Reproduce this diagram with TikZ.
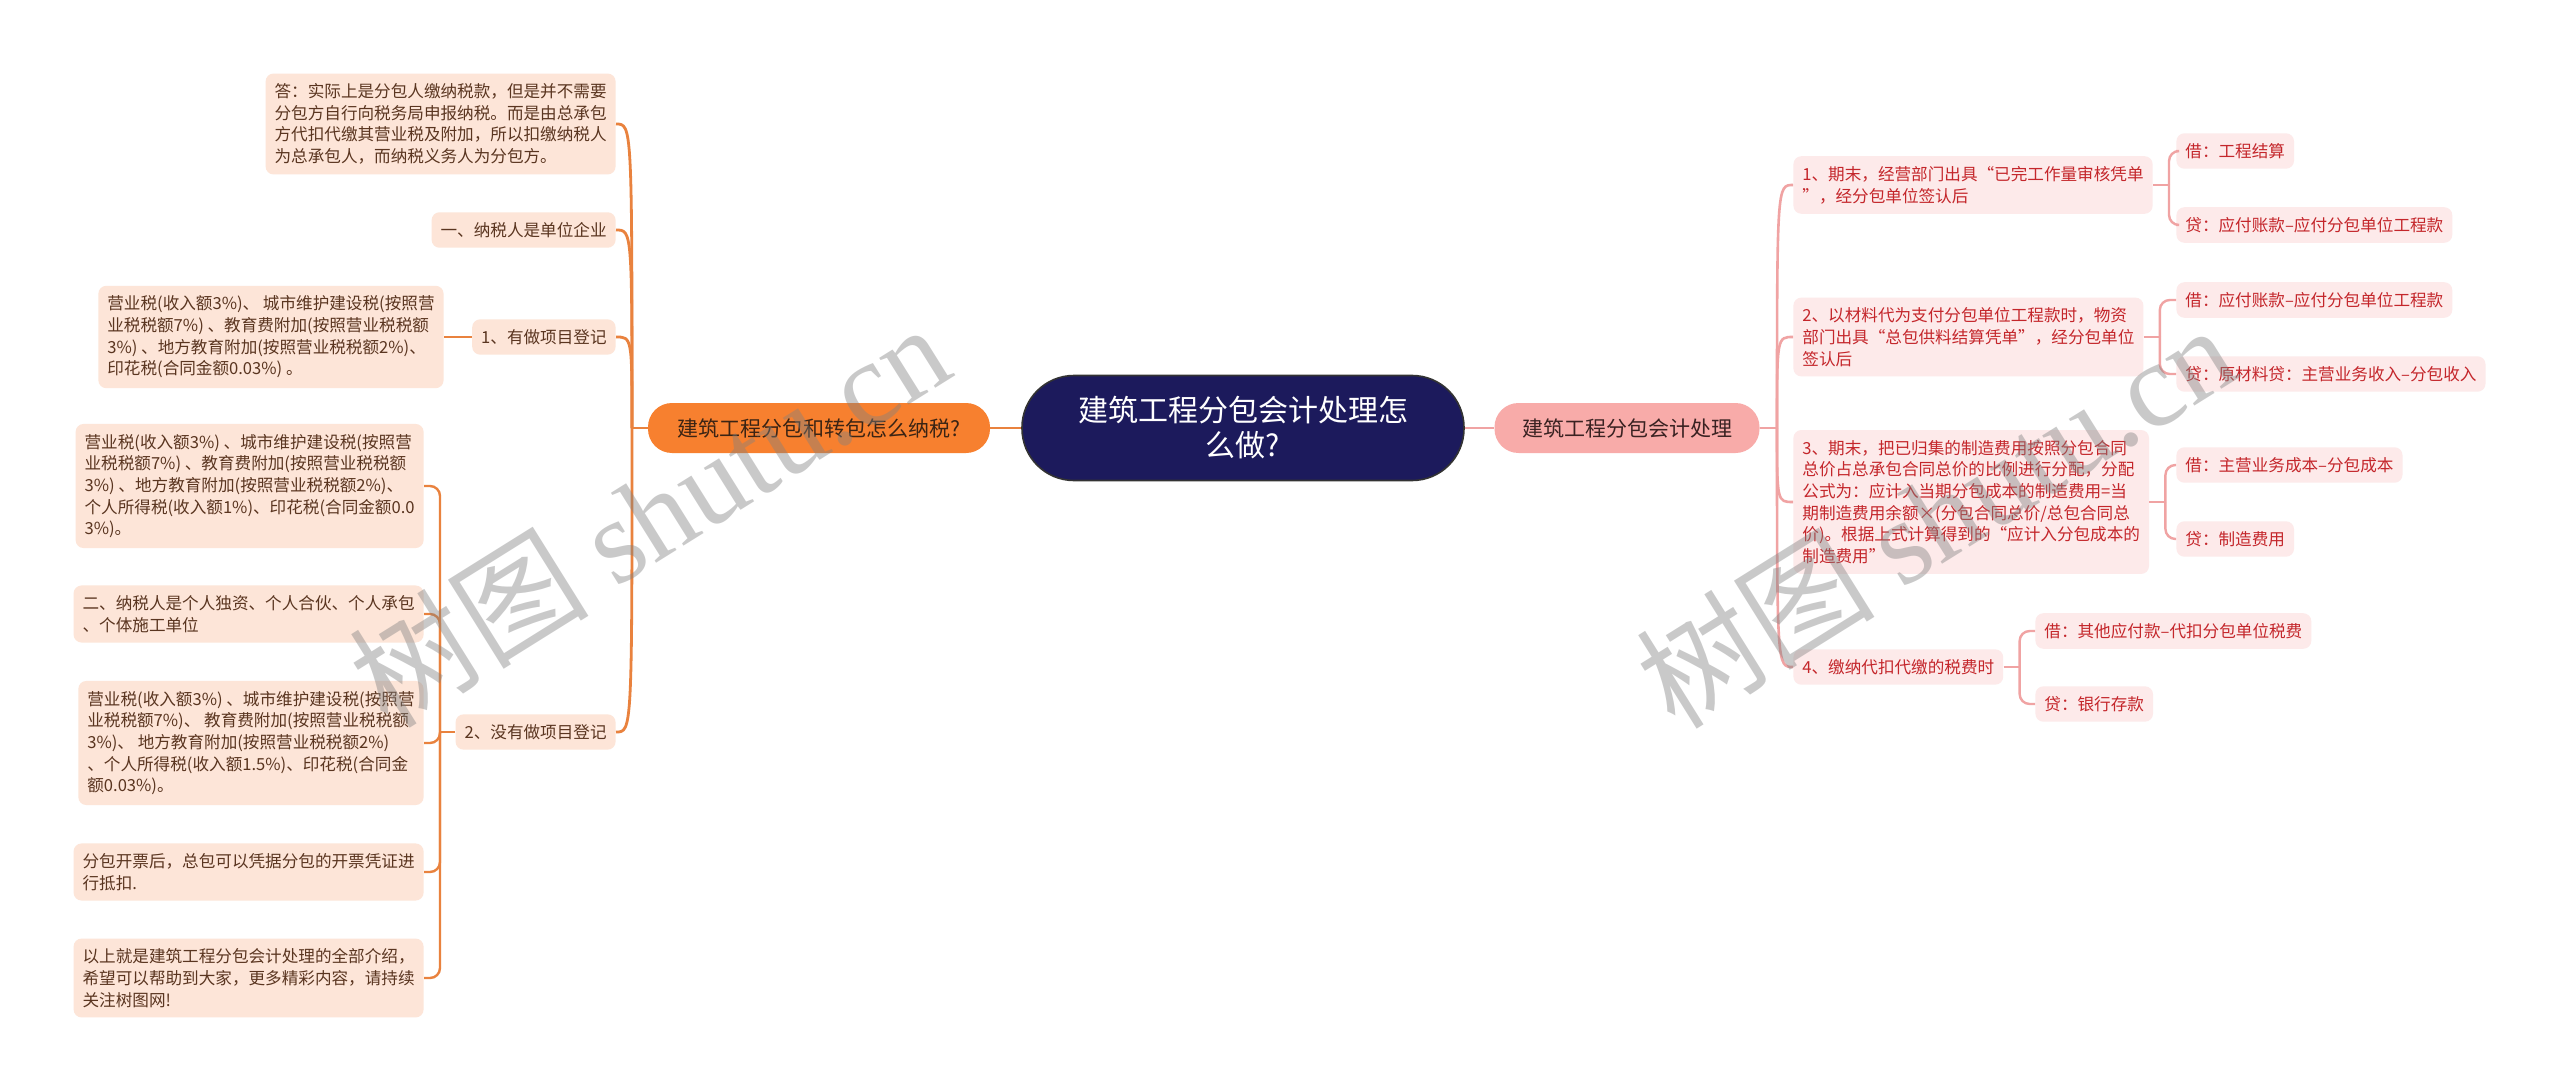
\documentclass[tikz,border=0pt]{standalone}
\usepackage{fontspec}
\setmainfont{Noto Sans CJK SC}
\newfontfamily\wmfont{Liberation Serif}
\usetikzlibrary{calc}
\definecolor{lfill}{HTML}{FDE5D8}
\definecolor{ltext}{HTML}{5A3520}
\definecolor{lline}{HTML}{E9823E}
\definecolor{orfill}{HTML}{F7802F}
\definecolor{ortext}{HTML}{3B2414}
\definecolor{navy}{HTML}{1C1A5C}
\definecolor{pkfill}{HTML}{F8ABA9}
\definecolor{pktext}{HTML}{3A2222}
\definecolor{rfill}{HTML}{FDEAEA}
\definecolor{rtext}{HTML}{C4262B}
\definecolor{rline}{HTML}{F0A3A3}
\tikzset{
  leftbox/.style={fill=lfill, text=ltext, rounded corners=4pt, inner xsep=4.5pt, inner ysep=5pt, align=left, font=\fontsize{8.3pt}{10.85pt}\selectfont},
  rightbox/.style={fill=rfill, text=rtext, rounded corners=4pt, inner xsep=4.5pt, inner ysep=5pt, align=left, font=\fontsize{8.3pt}{10.85pt}\selectfont},
  lconn/.style={draw=lline, line width=1.4pt},
  rconn/.style={draw=rline, line width=1.3pt},
  lsub/.style={draw=lline, line width=1.2pt, rounded corners=5pt},
  rsub/.style={draw=rline, line width=1.2pt, rounded corners=5pt},
  wmark/.style={rotate=32, text=gray, opacity=0.42, font=\fontsize{60pt}{60pt}\selectfont}
}
\begin{document}
\begin{tikzpicture}[x=0.5pt, y=-0.5pt]
\useasboundingbox (0,0) rectangle (2560,1091);
\fill[white] (0,0) rectangle (2560,1091);

% ---- central and main branches
\node[fill=navy, draw=black!80, line width=0.8pt, rounded corners=26pt, minimum width=221pt, minimum height=52.5pt, text=white, align=center, font=\fontsize{15pt}{17.5pt}\selectfont] (root) at (1243,428) {建筑工程分包会计处理怎\\么做?};
\node[fill=orfill, rounded corners=12pt, minimum width=171pt, minimum height=25pt, text=ortext, font=\fontsize{10.5pt}{12pt}\selectfont] (lmain) at (819,428) {建筑工程分包和转包怎么纳税?};
\node[fill=pkfill, rounded corners=12pt, minimum width=132.5pt, minimum height=25pt, text=pktext, font=\fontsize{10.5pt}{12pt}\selectfont] (rmain) at (1627,428) {建筑工程分包会计处理};

% ---- left side
\node[leftbox, anchor=east] (ans) at (616,124) {答：实际上是分包人缴纳税款，但是并不需要\\分包方自行向税务局申报纳税。而是由总承包\\方代扣代缴其营业税及附加，所以扣缴纳税人\\为总承包人，而纳税义务人为分包方。};
\node[leftbox, anchor=east] (l1) at (616,230) {一、纳税人是单位企业};
\node[leftbox, anchor=east] (l2) at (616,337) {1、有做项目登记};
\node[leftbox, anchor=east] (l2a) at (444,337) {营业税(收入额3\%)、 城市维护建设税(按照营\\业税税额7\%) 、教育费附加(按照营业税税额\\3\%) 、地方教育附加(按照营业税税额2\%)、\\印花税(合同金额0.03\%) 。};
\node[leftbox, anchor=east] (l3) at (616,732) {2、没有做项目登记};
\node[leftbox, anchor=east] (l3a) at (424,486) {营业税(收入额3\%) 、城市维护建设税(按照营\\业税税额7\%) 、教育费附加(按照营业税税额\\3\%) 、地方教育附加(按照营业税税额2\%)、\\个人所得税(收入额1\%)、印花税(合同金额0.0\\3\%)。};
\node[leftbox, anchor=east] (l3b) at (424,614) {二、纳税人是个人独资、个人合伙、个人承包\\、个体施工单位};
\node[leftbox, anchor=east] (l3c) at (424,743) {营业税(收入额3\%) 、城市维护建设税(按照营\\业税税额7\%)、 教育费附加(按照营业税税额\\3\%)、 地方教育附加(按照营业税税额2\%)\\、个人所得税(收入额1.5\%)、印花税(合同金\\额0.03\%)。};
\node[leftbox, anchor=east] (l3d) at (424,872) {分包开票后，总包可以凭据分包的开票凭证进\\行抵扣.};
\node[leftbox, anchor=east] (l3e) at (424,978) {以上就是建筑工程分包会计处理的全部介绍，\\希望可以帮助到大家，更多精彩内容，请持续\\关注树图网!};

% ---- right side
\node[rightbox, anchor=west] (r1) at (1793,185) {1、期末，经营部门出具“已完工作量审核凭单\\”，经分包单位签认后};
\node[rightbox, anchor=west] (r2) at (1793,337) {2、以材料代为支付分包单位工程款时，物资\\部门出具“总包供料结算凭单”，经分包单位\\签认后};
\node[rightbox, anchor=west] (r3) at (1793,502) {3、期末，把已归集的制造费用按照分包合同\\总价占总承包合同总价的比例进行分配，分配\\公式为：应计入当期分包成本的制造费用=当\\期制造费用余额×(分包合同总价/总包合同总\\价)。根据上式计算得到的“应计入分包成本的\\制造费用”};
\node[rightbox, anchor=west] (r4) at (1793,667) {4、缴纳代扣代缴的税费时};
\node[rightbox, anchor=west] (r1a) at (2176,151) {借：工程结算};
\node[rightbox, anchor=west] (r1b) at (2176,225) {贷：应付账款–应付分包单位工程款};
\node[rightbox, anchor=west] (r2a) at (2176,300) {借：应付账款–应付分包单位工程款};
\node[rightbox, anchor=west] (r2b) at (2176,374) {贷：原材料贷：主营业务收入–分包收入};
\node[rightbox, anchor=west] (r3a) at (2176,465) {借：主营业务成本–分包成本};
\node[rightbox, anchor=west] (r3b) at (2176,539) {贷：制造费用};
\node[rightbox, anchor=west] (r4a) at (2035,631) {借：其他应付款–代扣分包单位税费};
\node[rightbox, anchor=west] (r4b) at (2035,704) {贷：银行存款};

% ---- connectors: main
\draw[lconn] (lmain.east) -- (root.west);
\draw[rconn] (root.east) -- (rmain.west);

% left trunk
\coordinate (lj) at (632,428);
\draw[lconn] (lmain.west) -- (lj);
\foreach \n in {ans,l1,l2,l3}{
  \draw[lconn] (lj) .. controls (lj |- \n.east) and (lj |- \n.east) .. (\n.east);
}
\draw[lsub] (l2.west) -- (l2a.east);
\coordinate (lj2) at (440,732);
\draw[lsub] (l3.west) -- (lj2);
\foreach \n in {l3a,l3b,l3c,l3d,l3e}{
  \draw[lsub] (lj2) |- (\n.east);
}

% right trunk
\coordinate (rj) at (1777,428);
\draw[rconn] (rmain.east) -- (rj);
\foreach \n in {r1,r2,r3,r4}{
  \draw[rconn] (rj) .. controls (rj |- \n.west) and (rj |- \n.west) .. (\n.west);
}
\coordinate (rj1) at ($(r1.east)+(16,0)$);
\coordinate (rj2) at ($(r2.east)+(16,0)$);
\coordinate (rj3) at ($(r3.east)+(16,0)$);
\coordinate (rj4) at ($(r4.east)+(16,0)$);
\draw[rsub] (r1.east) -- (rj1);
\draw[rsub] (rj1) |- (r1a.west);
\draw[rsub] (rj1) |- (r1b.west);
\draw[rsub] (r2.east) -- (rj2);
\draw[rsub] (rj2) |- (r2a.west);
\draw[rsub] (rj2) |- (r2b.west);
\draw[rsub] (r3.east) -- (rj3);
\draw[rsub] (rj3) |- (r3a.west);
\draw[rsub] (rj3) |- (r3b.west);
\draw[rsub] (r4.east) -- (rj4);
\draw[rsub] (rj4) |- (r4a.west);
\draw[rsub] (rj4) |- (r4b.west);

% ---- watermarks
\node[wmark] (wm1) at (649,514) {树图 {\wmfont shutu.cn}};
\node[wmark] (wm2) at (1935,515) {树图 {\wmfont shutu.cn}};
\end{tikzpicture}
\end{document}
